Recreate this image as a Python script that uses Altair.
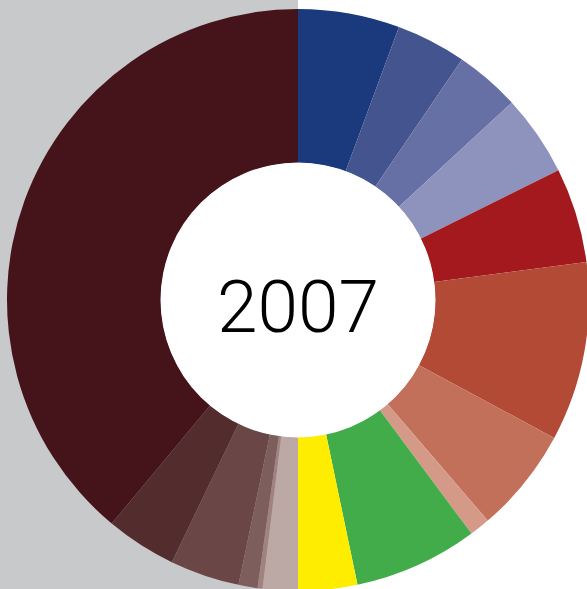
import altair as alt
import pandas as pd

# Slice shares (degrees of the ring, clockwise from 12 o'clock)
categories = ["A1", "A2", "A3", "A4", "B1", "B2", "B3", "B4", "C1", "D1",
              "E1", "E2", "E3", "E4", "E5", "E6"]
values = [20.3, 14.0, 13.0, 16.2, 19.0, 35.8, 21.0, 4.1, 24.8, 11.8,
          7.0, 1.0, 3.8, 13.9, 14.1, 140.2]
colors = ["#1b3a7d", "#43548f", "#6670a4", "#8e93be", "#a3191d", "#b24a36",
          "#c3705a", "#d49a87", "#42ac4b", "#ffed00", "#bca9a6", "#a0837f",
          "#7d5e5c", "#6b4646", "#532c2e", "#45141a"]
year_label = "2007"

df = pd.DataFrame({"cat": categories, "value": values,
                   "idx": list(range(len(categories)))})

W, H = 587, 589
CX, CY = 298, 300

one = pd.DataFrame({"a": [0]})

bg = alt.Chart(one).mark_rect(color="#c8c9cb").encode(
    x=alt.value(0), x2=alt.value(298), y=alt.value(0), y2=alt.value(H)
)

ring = alt.Chart(df).mark_arc(outerRadius=291, innerRadius=137).encode(
    theta=alt.Theta("value:Q", stack=True),
    order=alt.Order("idx:Q", sort="ascending"),
    color=alt.Color("cat:N", scale=alt.Scale(domain=categories, range=colors),
                    legend=None),
    x=alt.value(CX),
    y=alt.value(CY),
)

hole = alt.Chart(one).mark_arc(outerRadius=137.5, innerRadius=0,
                               color="white").encode(
    theta=alt.value(6.2832), x=alt.value(CX), y=alt.value(CY)
)

label = alt.Chart(pd.DataFrame({"t": [year_label]})).mark_text(
    font="Roboto", fontWeight=300, fontSize=73, color="black",
    align="center", baseline="alphabetic"
).encode(text="t:N", x=alt.value(CX), y=alt.value(332))

chart = alt.layer(bg, ring, hole, label).properties(
    width=W, height=H, padding=0, autosize=alt.AutoSizeParams(type="none"),
    background="white"
).configure_view(stroke=None)

chart.save("out.html", embed_options={"renderer": "svg", "actions": False})
